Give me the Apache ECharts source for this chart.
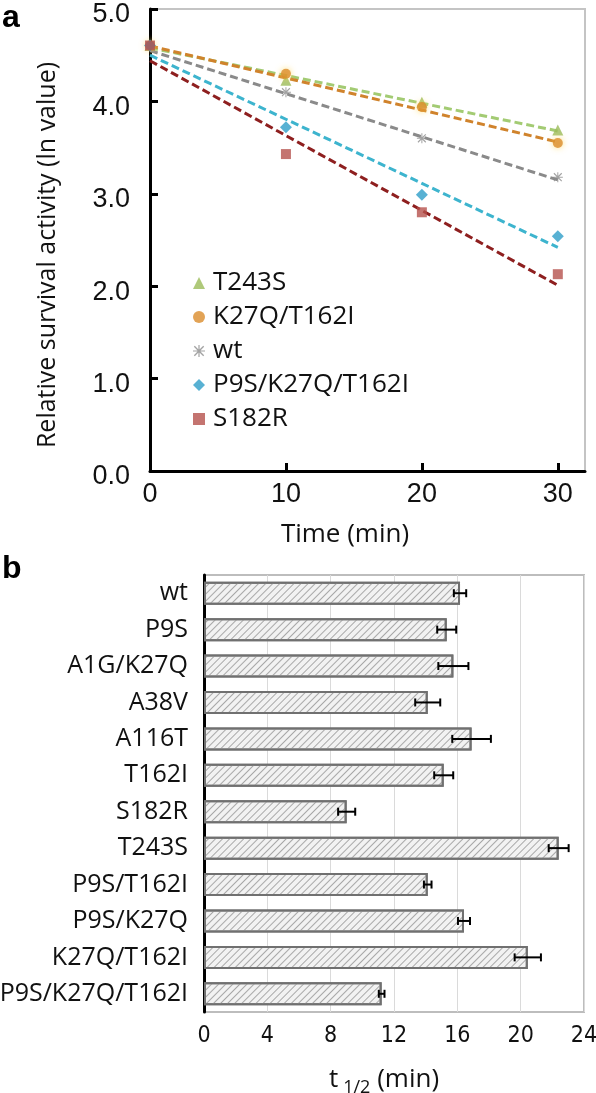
<!DOCTYPE html>
<html><head><meta charset="utf-8">
<script src="https://cdn.jsdelivr.net/npm/echarts@6/dist/echarts.min.js"></script>
<style>html,body{margin:0;padding:0;background:#fff}#c{width:596px;height:1093px}</style>
</head><body><div id="c"></div>
<script>
// ---- Panel a data ----
const times = [0, 10, 20, 30];
const seriesNames = ['T243S', 'K27Q/T162I', 'wt', 'P9S/K27Q/T162I', 'S182R'];
const valT243S = [4.605, 4.23, 3.99, 3.69];
const valK27QT162I = [4.605, 4.30, 3.94, 3.55];
const valWt = [4.605, 4.10, 3.60, 3.18];
const valP9SK27QT162I = [4.605, 3.72, 2.99, 2.54];
const valS182R = [4.605, 3.43, 2.80, 2.13];
// trend line end points read at t=0 and t=30
const trendStart = [4.58, 4.60, 4.55, 4.50, 4.44];
const trendEnd = [3.68, 3.56, 3.15, 2.42, 2.01];
const xTicksA = [0, 10, 20, 30];

// ---- Panel b data ----
const mutants = ['wt', 'P9S', 'A1G/K27Q', 'A38V', 'A116T', 'T162I', 'S182R', 'T243S', 'P9S/T162I', 'P9S/K27Q', 'K27Q/T162I', 'P9S/K27Q/T162I'];
const halfLife = [16.17, 15.33, 15.75, 14.13, 16.9, 15.14, 9.01, 22.4, 14.13, 16.42, 20.45, 11.22];
const halfLifeErr = [0.39, 0.6, 0.95, 0.79, 1.22, 0.6, 0.54, 0.63, 0.24, 0.38, 0.83, 0.18];

const allVals = [valT243S, valK27QT162I, valWt, valP9SK27QT162I, valS182R];
const markColors = ['#9BBB59', '#DB8C2C', '#8C8C8C', '#2E9DC8', '#B5514C'];
const lineColors = ['#A3CB73', '#D0832C', '#8A8A8A', '#3DB4CE', '#8E1F1F'];
const starPath = 'path://M4.5 0L5.5 0L5.5 10L4.5 10ZM0.7 1.5L1.5 0.7L9.3 8.5L8.5 9.3ZM8.5 0.7L9.3 1.5L1.5 9.3L0.7 8.5ZM0 4.5L10 4.5L10 5.5L0 5.5Z';
const symbols = ['triangle', 'circle', starPath, 'diamond', 'rect'];
const symSizes = [11, 10, 10, 12, 10];

const labelFont = '"Open Sans", "Noto Sans", sans-serif';
const numFont = '"Liberation Sans", Arial, sans-serif';
const narrowFont = '"Liberation Sans Narrow", "DejaVu Sans Condensed", "Liberation Sans", sans-serif';

const series = [];
seriesNames.forEach((n, i) => {
  series.push({
    type: 'line', name: n + ' trend', xAxisIndex: 0, yAxisIndex: 0,
    data: [[0, trendStart[i]], [30, trendEnd[i]]],
    symbol: 'none', silent: true, z: 2,
    lineStyle: { color: lineColors[i], width: 3, type: [8, 4] }
  });
});
seriesNames.forEach((n, i) => {
  series.push({
    type: 'scatter', name: n, xAxisIndex: 0, yAxisIndex: 0,
    data: times.map((t, k) => [t, allVals[i][k]]),
    symbol: symbols[i], symbolSize: symSizes[i], z: 3,
    itemStyle: i === 1 ? { color: markColors[i], shadowBlur: 6, shadowColor: 'rgba(255,215,90,0.95)' } : { color: markColors[i] }
  });
});
series.push({
  type: 'bar', xAxisIndex: 1, yAxisIndex: 1, data: halfLife, barWidth: 23,
  itemStyle: {
    color: '#F2F2F2', borderColor: '#707070', borderWidth: 2,
    decal: { symbol: 'rect', symbolSize: 1, dashArrayX: [1, 0], dashArrayY: [1, 3.6], rotation: -Math.PI / 4, color: '#A8A8A8' }
  }
});
series.push({
  type: 'custom', xAxisIndex: 1, yAxisIndex: 1, z: 5,
  data: mutants.map((m, i) => [i, halfLife[i], halfLifeErr[i]]),
  encode: { x: 1, y: 0 },
  renderItem: function (params, api) {
    const c = api.value(0), m = api.value(1), e = api.value(2);
    const lo = api.coord([m - e, c]), hi = api.coord([m + e, c]);
    const st = { stroke: '#000', lineWidth: 2 };
    return { type: 'group', children: [
      { type: 'line', shape: { x1: lo[0], y1: lo[1], x2: hi[0], y2: hi[1] }, style: st },
      { type: 'line', shape: { x1: lo[0], y1: lo[1] - 4, x2: lo[0], y2: lo[1] + 4 }, style: st },
      { type: 'line', shape: { x1: hi[0], y1: hi[1] - 4, x2: hi[0], y2: hi[1] + 4 }, style: st }
    ]};
  }
});

const option = {
  animation: false,
  backgroundColor: '#fff',
  grid: [
    { left: 150, top: 9, width: 435, height: 462, show: true, borderColor: '#C4C4C4', borderWidth: 2, outerBoundsMode: 'none', containLabel: false },
    { left: 204, top: 575, width: 380, height: 437, show: true, borderColor: '#BDBDBD', borderWidth: 2, outerBoundsMode: 'none', containLabel: false }
  ],
  xAxis: [
    { type: 'value', gridIndex: 0, min: 0, max: 32, interval: 10,
      axisLine: { lineStyle: { color: '#000', width: 3 } },
      axisTick: { inside: true, length: 8, lineStyle: { color: '#000', width: 3 }, customValues: xTicksA },
      axisLabel: { customValues: xTicksA, fontFamily: numFont, fontSize: 27, color: '#111', margin: 10 },
      splitLine: { show: false } },
    { type: 'value', gridIndex: 1, min: 0, max: 24, interval: 4,
      axisLine: { lineStyle: { color: '#000', width: 3 } },
      axisTick: { show: false },
      axisLabel: { fontFamily: narrowFont, fontSize: 23, color: '#111', margin: 13 },
      splitLine: { show: true, lineStyle: { color: '#DADADA', width: 1 } } }
  ],
  yAxis: [
    { type: 'value', gridIndex: 0, min: 0, max: 5, interval: 1,
      axisLine: { show: true, lineStyle: { color: '#000', width: 3 } },
      axisTick: { show: true, inside: true, length: 8, lineStyle: { color: '#000', width: 3 } },
      axisLabel: { formatter: v => '{v|' + v.toFixed(1) + '}', margin: 20,
        rich: { v: { fontFamily: numFont, fontSize: 27, color: '#111', lineHeight: 27, padding: [12, 0, 0, 0] } } },
      splitLine: { show: false } },
    { type: 'category', gridIndex: 1, data: mutants, inverse: true,
      axisLine: { show: true, lineStyle: { color: '#000', width: 3 } },
      axisTick: { show: false },
      axisLabel: { fontFamily: labelFont, fontSize: 25, color: '#111', margin: 16 } }
  ],
  legend: {
    orient: 'vertical', left: 188, top: 265, itemGap: 8, itemWidth: 12, itemHeight: 12,
    textStyle: { fontFamily: labelFont, fontSize: 26, lineHeight: 26, color: '#111', padding: [0, 0, 0, 3] },
    data: seriesNames.map((n, i) => ({ name: n, icon: symbols[i] }))
  },
  graphic: [
    { type: 'text', left: 2, top: 2, style: { text: 'a', font: 'bold 32px "Liberation Sans", Arial, sans-serif', fill: '#000' } },
    { type: 'text', left: 2, top: 553, style: { text: 'b', font: 'bold 32px "Liberation Sans", Arial, sans-serif', fill: '#000' } },
    { type: 'text', x: 48, y: 255, rotation: Math.PI / 2, style: { text: 'Relative survival activity (ln value)', font: '25px "Open Sans", sans-serif', fill: '#111', align: 'center', verticalAlign: 'middle' } },
    { type: 'text', x: 345, y: 535, style: { text: 'Time (min)', font: '26px "Open Sans", sans-serif', fill: '#111', align: 'center', verticalAlign: 'middle' } },
    { type: 'text', x: 384, y: 1080, style: {
        text: '{t|t}{s|1/2}{t| (min)}', align: 'center', verticalAlign: 'middle', fill: '#111',
        rich: {
          t: { fontFamily: '"Open Sans", sans-serif', fontSize: 26, lineHeight: 34, verticalAlign: 'middle', fill: '#111' },
          s: { fontFamily: '"Open Sans", sans-serif', fontSize: 18, lineHeight: 34, verticalAlign: 'bottom', padding: [12, 0, 0, 5], fill: '#111' }
        } } }
  ],
  series: series
};
echarts.init(document.getElementById('c'), null, { renderer: 'canvas' }).setOption(option);
</script></body></html>
